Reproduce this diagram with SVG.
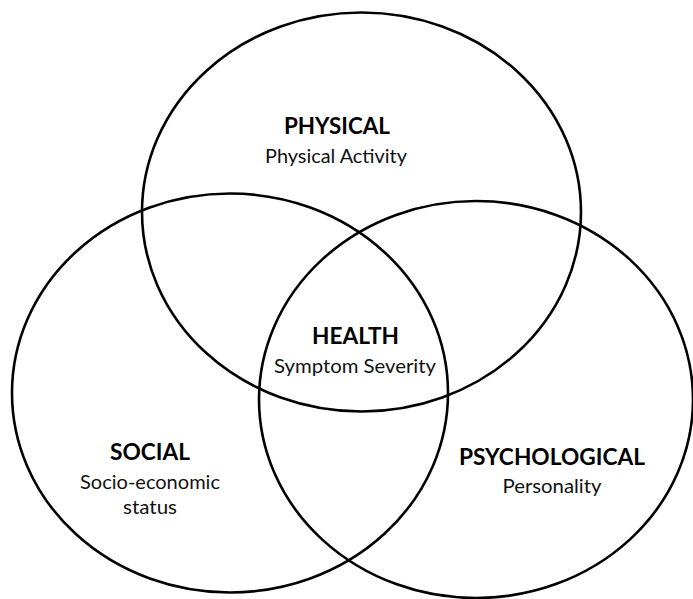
<svg xmlns="http://www.w3.org/2000/svg" width="693" height="599" viewBox="0 0 693 599">
  <style>
    .ring { fill: none; stroke: #000; stroke-width: 2.6; }
    .head { font-family: Lato, "Open Sans", "Liberation Sans", sans-serif; font-weight: bold; font-size: 22px; fill: #000; text-anchor: middle; }
    .sub { font-family: Lato, "Open Sans", "Liberation Sans", sans-serif; font-size: 19px; fill: #111; text-anchor: middle; }
  </style>
  <rect width="693" height="599" fill="#fff"/>

  <!-- the three overlapping domains -->
  <g id="connectors"></g>

  <g id="physical">
    <ellipse class="ring" cx="361.5" cy="212" rx="219.5" ry="199.5"/>
    <text class="head" x="337" y="134" textLength="106" lengthAdjust="spacingAndGlyphs">PHYSICAL</text>
    <text class="sub" x="336" y="163" textLength="142" lengthAdjust="spacingAndGlyphs">Physical Activity</text>
  </g>

  <g id="social">
    <ellipse class="ring" cx="230" cy="393" rx="218" ry="199.5"/>
    <text class="head" x="150" y="460" textLength="80" lengthAdjust="spacingAndGlyphs">SOCIAL</text>
    <text class="sub" x="150" y="489" textLength="140" lengthAdjust="spacingAndGlyphs">Socio-economic</text>
    <text class="sub" x="150" y="514" textLength="54" lengthAdjust="spacingAndGlyphs">status</text>
  </g>

  <g id="psychological">
    <ellipse class="ring" cx="476" cy="399.5" rx="217" ry="198.5"/>
    <text class="head" x="552" y="465" textLength="186" lengthAdjust="spacingAndGlyphs">PSYCHOLOGICAL</text>
    <text class="sub" x="552" y="493" textLength="99" lengthAdjust="spacingAndGlyphs">Personality</text>
  </g>

  <g id="health">
    <text class="head" x="355.5" y="344" textLength="87" lengthAdjust="spacingAndGlyphs">HEALTH</text>
    <text class="sub" x="355" y="373" textLength="162" lengthAdjust="spacingAndGlyphs">Symptom Severity</text>
  </g>
</svg>
